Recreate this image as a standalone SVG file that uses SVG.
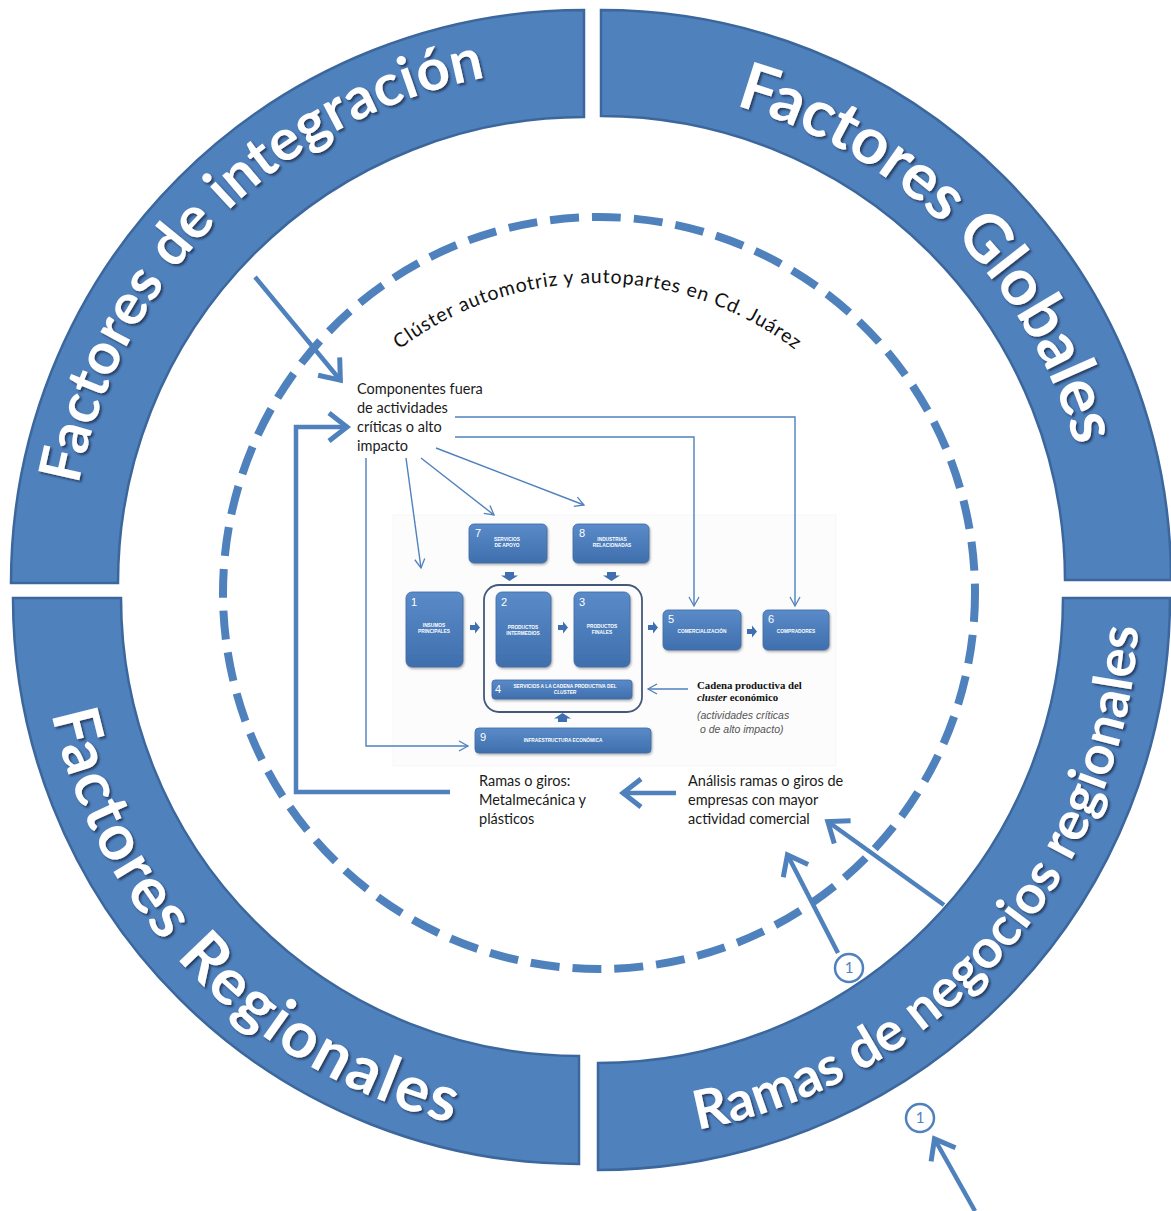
<svg xmlns="http://www.w3.org/2000/svg" width="1171" height="1211" viewBox="0 0 1171 1211">
<style>
.band{fill:#4F81BD;stroke:#3B679C;stroke-width:2.5}
.bandtxt{font-family:Lato,"Open Sans",sans-serif;font-weight:700;fill:#fff}
.body{font-family:Lato,"Open Sans",sans-serif;font-size:14.5px;fill:#1a1a1a}
.thin{fill:none;stroke:#4F81BD;stroke-width:1.4;marker-end:url(#mThin)}
.thick{fill:none;stroke:#4F81BD;stroke-width:4.5;marker-end:url(#mThick)}
.box{fill:url(#gBox);stroke:#3E6DA8;stroke-width:0.8;filter:url(#bs)}
.num{font-family:"Liberation Sans",Arial,sans-serif;font-size:11px;fill:#fff}
.lbl{font-family:"Liberation Sans",Arial,sans-serif;font-size:4.8px;font-weight:700;fill:#fff;text-anchor:middle}
.blk{fill:#3F6FAE}
.badge{fill:#fff;stroke:#4F81BD;stroke-width:2.5}
.badgetxt{font-family:Lato,"Open Sans",sans-serif;font-size:15px;fill:#4F81BD;text-anchor:middle}
</style>
<defs>
  <filter id="ts" x="-10%" y="-10%" width="120%" height="120%">
    <feDropShadow dx="2" dy="2" stdDeviation="1.3" flood-color="#1c3352" flood-opacity="0.85"/>
  </filter>
  <filter id="bs" x="-10%" y="-10%" width="130%" height="130%">
    <feDropShadow dx="1" dy="1.5" stdDeviation="1" flood-color="#777" flood-opacity="0.6"/>
  </filter>
  <linearGradient id="gBox" x1="0" y1="0" x2="0" y2="1">
    <stop offset="0" stop-color="#5A8BC8"/>
    <stop offset="1" stop-color="#3F6FAD"/>
  </linearGradient>
  <marker id="mThin" viewBox="-11 -6 13 12" refX="0" refY="0" markerWidth="13" markerHeight="12" orient="auto" markerUnits="userSpaceOnUse">
    <path d="M-9,-5 L0,0 L-9,5" fill="none" stroke="#4F81BD" stroke-width="1.3"/>
  </marker>
  <marker id="mThick" viewBox="-24 -16 28 32" refX="1" refY="0" markerWidth="28" markerHeight="32" orient="auto" markerUnits="userSpaceOnUse">
    <path d="M-18,-14 L0,0 L-18,14" fill="none" stroke="#4F81BD" stroke-width="5"/>
  </marker>
  <!-- baselines for the curved labels -->
  <path id="pTL" d="M78.5,484.7 A515,515 0 0 1 539.1,70"/>
  <path id="pTR" d="M735.2,105.6 A493,493 0 0 1 1086.5,494.4"/>
  <path id="pBL" d="M51.6,713.9 A540,540 0 0 0 531.9,1135.9"/>
  <path id="pBR" d="M697.5,1129.8 A541,541 0 0 0 1138.2,569.7"/>
  <path id="pTitle" d="M270,610 A327,327 0 0 1 924,610"/>
</defs>

<rect width="1171" height="1211" fill="#fff"/>

<!-- outer ring of factors -->
<g id="factores-integracion">
  <path class="band" d="M11,583 A573,573 0 0 1 584,10 L584,117 A466,466 0 0 0 118,583 Z"/>
  <text class="bandtxt" font-size="58" filter="url(#ts)"><textPath href="#pTL" textLength="611">Factores de integración</textPath></text>
</g>
<g id="factores-globales">
  <path class="band" d="M601,10 A570,570 0 0 1 1171,580 L1065,580 A464,464 0 0 0 601,116 Z"/>
  <text class="bandtxt" font-size="65" filter="url(#ts)"><textPath href="#pTR" textLength="503">Factores Globales</textPath></text>
</g>
<g id="factores-regionales">
  <path class="band" d="M13,598 L121,598 A458,458 0 0 0 579,1056 L579,1164 A566,566 0 0 1 13,598 Z"/>
  <text class="bandtxt" font-size="64" filter="url(#ts)"><textPath href="#pBL" textLength="603">Factores Regionales</textPath></text>
</g>
<g id="ramas-negocios">
  <path class="band" d="M1063,598 L1170,598 A572,572 0 0 1 598,1170 L598,1063 A465,465 0 0 0 1063,598 Z"/>
  <text class="bandtxt" font-size="54" filter="url(#ts)"><textPath href="#pBR" textLength="721">Ramas de negocios regionales</textPath></text>
</g>

<!-- cluster boundary -->
<g id="cluster">
  <circle cx="599" cy="593" r="376" fill="none" stroke="#4F81BD" stroke-width="8" stroke-dasharray="29 13"/>
  <text font-family="Lato, 'Open Sans', sans-serif" font-size="19.5" fill="#111" text-anchor="middle"><textPath href="#pTitle" startOffset="513.7" textLength="425">Clúster automotriz y autopartes en Cd. Juárez</textPath></text>
</g>

<!-- text nodes -->
<g id="componentes">
  <text class="body" x="357" y="394">Componentes fuera</text>
  <text class="body" x="357" y="413">de actividades</text>
  <text class="body" x="357" y="432">críticas o alto</text>
  <text class="body" x="357" y="451">impacto</text>
</g>
<g id="ramas-giros">
  <text class="body" x="479" y="786">Ramas o giros:</text>
  <text class="body" x="479" y="805">Metalmecánica y</text>
  <text class="body" x="479" y="824">plásticos</text>
</g>
<g id="analisis">
  <text class="body" x="688" y="786">Análisis ramas o giros de</text>
  <text class="body" x="688" y="805">empresas con mayor</text>
  <text class="body" x="688" y="824">actividad comercial</text>
</g>
<g id="badge-inner">
  <circle class="badge" cx="849" cy="968" r="14"/>
  <text class="badgetxt" x="849" y="973">1</text>
</g>
<g id="badge-outer">
  <circle class="badge" cx="920" cy="1118" r="14"/>
  <text class="badgetxt" x="920" y="1123">1</text>
</g>

<!-- productive chain of the cluster -->
<g id="cadena">
  <rect x="393" y="515" width="443" height="251" fill="#fcfcfc" stroke="#f1f1f1" stroke-width="0.6"/>
  <rect x="484" y="585" width="158" height="127" rx="15" fill="none" stroke="#44597A" stroke-width="1.8"/>
  <g id="n7"><rect class="box" x="469" y="524" width="78" height="39" rx="5"/><text class="num" x="475" y="537">7</text><text class="lbl" x="507" y="541">SERVICIOS<tspan x="507" y="547">DE APOYO</tspan></text></g>
  <g id="n8"><rect class="box" x="573" y="524" width="76" height="39" rx="5"/><text class="num" x="579" y="537">8</text><text class="lbl" x="612" y="541">INDUSTRIAS<tspan x="612" y="547">RELACIONADAS</tspan></text></g>
  <g id="n1"><rect class="box" x="406" y="592" width="57" height="75" rx="6"/><text class="num" x="411" y="606">1</text><text class="lbl" x="434" y="627">INSUMOS<tspan x="434" y="633">PRINCIPALES</tspan></text></g>
  <g id="n2"><rect class="box" x="496" y="592" width="55" height="75" rx="6"/><text class="num" x="501" y="606">2</text><text class="lbl" x="523" y="629">PRODUCTOS<tspan x="523" y="635">INTERMEDIOS</tspan></text></g>
  <g id="n3"><rect class="box" x="574" y="592" width="56" height="75" rx="6"/><text class="num" x="579" y="606">3</text><text class="lbl" x="602" y="628">PRODUCTOS<tspan x="602" y="634">FINALES</tspan></text></g>
  <g id="n4"><rect class="box" x="492" y="680" width="140" height="19" rx="3"/><text class="num" x="495" y="693">4</text><text class="lbl" x="565" y="688">SERVICIOS A LA CADENA PRODUCTIVA DEL<tspan x="565" y="694" font-style="italic">CLUSTER</tspan></text></g>
  <g id="n5"><rect class="box" x="663" y="610" width="78" height="40" rx="5"/><text class="num" x="668" y="623">5</text><text class="lbl" x="702" y="633">COMERCIALIZACIÓN</text></g>
  <g id="n6"><rect class="box" x="763" y="610" width="66" height="40" rx="5"/><text class="num" x="768" y="623">6</text><text class="lbl" x="796" y="633">COMPRADORES</text></g>
  <g id="n9"><rect class="box" x="475" y="728" width="176" height="25" rx="4"/><text class="num" x="480" y="741">9</text><text class="lbl" x="563" y="742">INFRAESTRUCTURA ECONÓMICA</text></g>
  <!-- block arrows between stages -->
  <g id="flow">
    <path class="blk" d="M470,625 h5 v-3.5 l5,6 l-5,6 v-3.5 h-5 z"/>
    <path class="blk" d="M558,625 h5 v-3.5 l5,6 l-5,6 v-3.5 h-5 z"/>
    <path class="blk" d="M648,625 h5 v-3.5 l5,6 l-5,6 v-3.5 h-5 z"/>
    <path class="blk" d="M747,629 h5 v-3.5 l5,6 l-5,6 v-3.5 h-5 z"/>
    <path class="blk" d="M505,572 h9 v3.5 h4 l-8.5,5.5 l-8.5,-5.5 h4 z"/>
    <path class="blk" d="M607,572 h9 v3.5 h4 l-8.5,5.5 l-8.5,-5.5 h4 z"/>
    <path class="blk" d="M558,722 h9 v-3.5 h4 l-8.5,-5.5 l-8.5,5.5 h4 z"/>
  </g>
  <g id="cadena-nota">
    <text font-family="'Liberation Serif', serif" font-weight="700" font-size="10.8" fill="#111" x="697" y="689">Cadena productiva del</text>
    <text font-family="'Liberation Serif', serif" font-weight="700" font-size="10.8" fill="#111" x="697" y="701"><tspan font-style="italic">cluster</tspan> económico</text>
    <text font-family="'Liberation Sans', Arial, sans-serif" font-style="italic" font-size="10.5" fill="#555" x="697" y="719">(actividades críticas</text>
    <text font-family="'Liberation Sans', Arial, sans-serif" font-style="italic" font-size="10.5" fill="#555" x="700" y="733">o de alto impacto)</text>
  </g>
</g>

<!-- connectors -->
<g id="connectors">
  <polyline class="thin" points="455,417 795,417 795,606"/>
  <polyline class="thin" points="455,437 694,437 694,606"/>
  <line class="thin" x1="406" y1="458" x2="421" y2="568"/>
  <line class="thin" x1="421" y1="458" x2="494" y2="515"/>
  <line class="thin" x1="436" y1="448" x2="584" y2="505"/>
  <polyline class="thin" points="366,458 366,746 468,746"/>
  <line class="thin" x1="688" y1="689" x2="648" y2="689"/>
  <line class="thick" x1="255" y1="277" x2="341" y2="381"/>
  <polyline class="thick" points="450,792 296,792 296,427 348,427"/>
  <line class="thick" x1="676" y1="793" x2="622" y2="793"/>
  <line class="thick" x1="838" y1="953" x2="787" y2="854"/>
  <line class="thick" x1="944" y1="905" x2="827" y2="821"/>
  <line class="thick" x1="975" y1="1211" x2="934" y2="1138"/>
</g>
</svg>
